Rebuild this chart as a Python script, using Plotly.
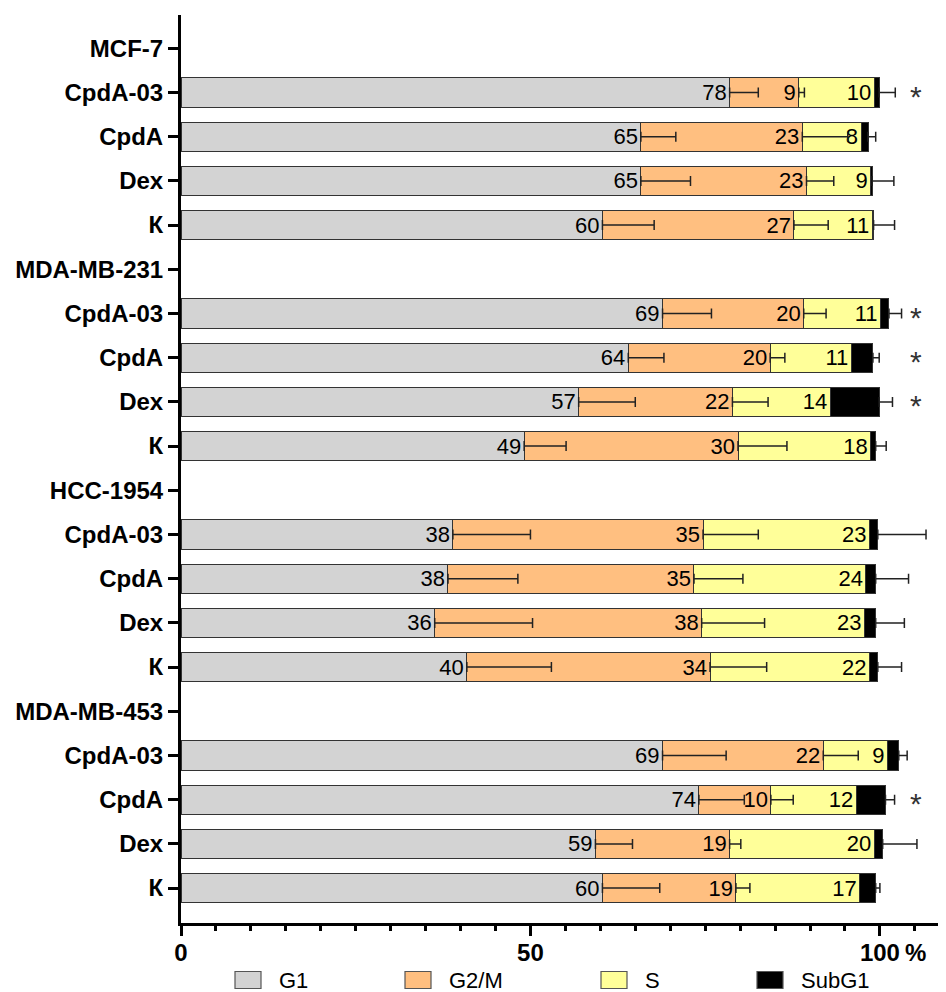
import plotly.graph_objects as go

categories = ["MCF-7", "CpdA-03", "CpdA", "Dex", "К",
              "MDA-MB-231", "CpdA-03", "CpdA", "Dex", "К",
              "HCC-1954", "CpdA-03", "CpdA", "Dex", "К",
              "MDA-MB-453", "CpdA-03", "CpdA", "Dex", "К"]

# segment values (%), None for group-header rows
g1 = [None, 78.5, 65.8, 65.8, 60.3, None, 68.9, 64.0, 56.9, 49.1,
      None, 38.9, 38.2, 36.3, 40.9, None, 68.9, 74.1, 59.3, 60.3]
g2m = [None, 9.9, 23.1, 23.7, 27.4, None, 20.2, 20.3, 22.0, 30.6,
       None, 35.8, 35.2, 38.2, 34.8, None, 23.0, 10.3, 19.2, 19.1]
s_ph = [None, 10.8, 8.4, 9.2, 11.2, None, 11.0, 11.6, 14.0, 19.0,
        None, 23.8, 24.6, 23.3, 22.8, None, 9.2, 12.2, 20.7, 17.7]
subg1 = [None, 0.7, 1.0, 0.2, 0.2, None, 1.2, 3.1, 7.0, 0.7,
         None, 1.2, 1.4, 1.6, 1.2, None, 1.6, 4.2, 1.2, 2.3]

# printed labels
g1_lbl = ["", "78", "65", "65", "60", "", "69", "64", "57", "49",
          "", "38", "38", "36", "40", "", "69", "74", "59", "60"]
g2m_lbl = ["", "9", "23", "23", "27", "", "20", "20", "22", "30",
           "", "35", "35", "38", "34", "", "22", "10", "19", "19"]
s_lbl = ["", "10", "8", "9", "11", "", "11", "11", "14", "18",
         "", "23", "24", "23", "22", "", "9", "12", "20", "17"]

# error bars (+ side only)
g1_err = [None, 4.1, 5.0, 7.1, 7.4, None, 7.0, 5.1, 8.1, 6.0,
          None, 11.1, 10.0, 14.0, 12.1, None, 9.1, 6.5, 5.3, 8.2]
g2m_err = [None, 0.8, 6.5, 3.9, 4.9, None, 3.2, 2.1, 5.1, 7.0,
           None, 7.9, 7.0, 9.0, 8.1, None, 5.0, 3.2, 1.6, 2.0]
end_err = [None, 2.3, 1.1, 3.1, 3.0, None, 1.8, 0.9, 1.9, 1.5,
           None, 6.9, 4.7, 4.1, 3.4, None, 1.2, 1.3, 4.9, 0.6]

significant = [False, True, False, False, False, False, True, True, True, False,
               False, False, False, False, False, False, False, True, False, False]

x_ticks = [0, 50, 100]
x_tick_labels = ["0", "50", "100"]

series_names = ["G1", "G2/M", "S", "SubG1"]
colors = ["#d3d3d3", "#ffbf80", "#ffff99", "#000000"]

rows = list(range(len(categories)))
FONT = "Liberation Sans, Arial, sans-serif"

# layout geometry (pixels); the page body adds an 8 px offset
OFF = 8
W, H = 946 - OFF, 992 - OFF
ML, MR, MT, MB = 181 - OFF, 6, 15 - OFF, 69
PW, PH = W - ML - MR, H - MT - MB

def px_to_paper(px, py):
    """screen pixel -> paper coords"""
    return (px - OFF - ML) / PW, (H - MB - (py - OFF)) / PH

fig = go.Figure()
vals = [g1, g2m, s_ph, subg1]
lbls = [g1_lbl, g2m_lbl, s_lbl, None]
for name, v, lab, col in zip(series_names, vals, lbls, colors):
    fig.add_trace(go.Bar(
        x=v, y=rows, orientation="h", name=name, showlegend=False,
        marker=dict(color=col, line=dict(color="#333333", width=1)),
        text=lab, textposition="inside" if lab else "none",
        insidetextanchor="end", textangle=0, constraintext="none",
        textfont=dict(family=FONT, size=22, color="black"),
        width=0.66, hoverinfo="skip",
    ))

def cum(*lists):
    out = []
    for items in zip(*lists):
        out.append(None if items[0] is None else sum(items))
    return out

ends = [cum(g1), cum(g1, g2m), cum(g1, g2m, s_ph, subg1)]
errs = [g1_err, g2m_err, end_err]
for xe, er in zip(ends, errs):
    fig.add_trace(go.Scatter(
        x=xe, y=rows, mode="markers", marker=dict(size=1, opacity=0),
        showlegend=False, hoverinfo="skip",
        error_x=dict(type="data", symmetric=False, array=er,
                     arrayminus=[0 if e is not None else None for e in er],
                     color="#222222", thickness=1.5, width=5),
    ))

for r, sig in zip(rows, significant):
    if sig:
        fig.add_annotation(x=105.2, y=r, text="*", showarrow=False,
                           font=dict(family=FONT, size=30, color="#333333"),
                           yshift=-4)

# "%" unit after the 100 tick label
fig.add_annotation(x=100, y=0, xref="x", yref="paper", text="<b>%</b>",
                   showarrow=False, xanchor="left", yanchor="middle",
                   xshift=23, yshift=-29,
                   font=dict(family=FONT, size=24, color="black"))

# legend (swatches + labels) below the axis
legend_sq_left = [235, 405, 601, 757]
sq_w, sq_h, leg_cy = 26, 17, 980
for name, col, lx in zip(series_names, colors, legend_sq_left):
    x0, y0 = px_to_paper(lx, leg_cy + sq_h / 2)
    x1, y1 = px_to_paper(lx + sq_w, leg_cy - sq_h / 2)
    fig.add_shape(type="rect", xref="paper", yref="paper",
                  x0=x0, x1=x1, y0=y0, y1=y1,
                  fillcolor=col, line=dict(color="#555555", width=1.2))
    tx, ty = px_to_paper(lx + sq_w + 16, leg_cy)
    fig.add_annotation(x=tx, y=ty, xref="paper", yref="paper", text=name,
                       showarrow=False, xanchor="left", yanchor="middle",
                       font=dict(family=FONT, size=22, color="black"))

fig.update_layout(
    barmode="stack",
    width=W, height=H,
    margin=dict(l=ML, r=MR, t=MT, b=MB),
    plot_bgcolor="white", paper_bgcolor="white",
    font=dict(family=FONT, color="black"),
    showlegend=False,
    xaxis=dict(range=[0, 108.6], tickmode="array",
               tickvals=x_ticks,
               ticktext=["<b>%s</b>" % t for t in x_tick_labels],
               ticks="outside", ticklen=10, tickwidth=3, tickcolor="black",
               ticklabelstandoff=-4,
               showline=True, linewidth=3, linecolor="black",
               showgrid=False, zeroline=False, automargin=False,
               tickfont=dict(family=FONT, size=24, color="black"),
               minor=dict(dtick=5, tick0=0, ticks="outside", ticklen=5,
                          tickwidth=2.5, tickcolor="black", showgrid=False)),
    yaxis=dict(range=[19.79, -0.753], tickmode="array", tickvals=rows,
               ticktext=["<b>%s</b>" % c for c in categories],
               ticks="outside", ticklen=10, tickwidth=3, tickcolor="black",
               showline=True, linewidth=3, linecolor="black",
               showgrid=False, zeroline=False, automargin=False,
               tickfont=dict(family=FONT, size=24, color="black")),
)

fig.write_html("out.html")
